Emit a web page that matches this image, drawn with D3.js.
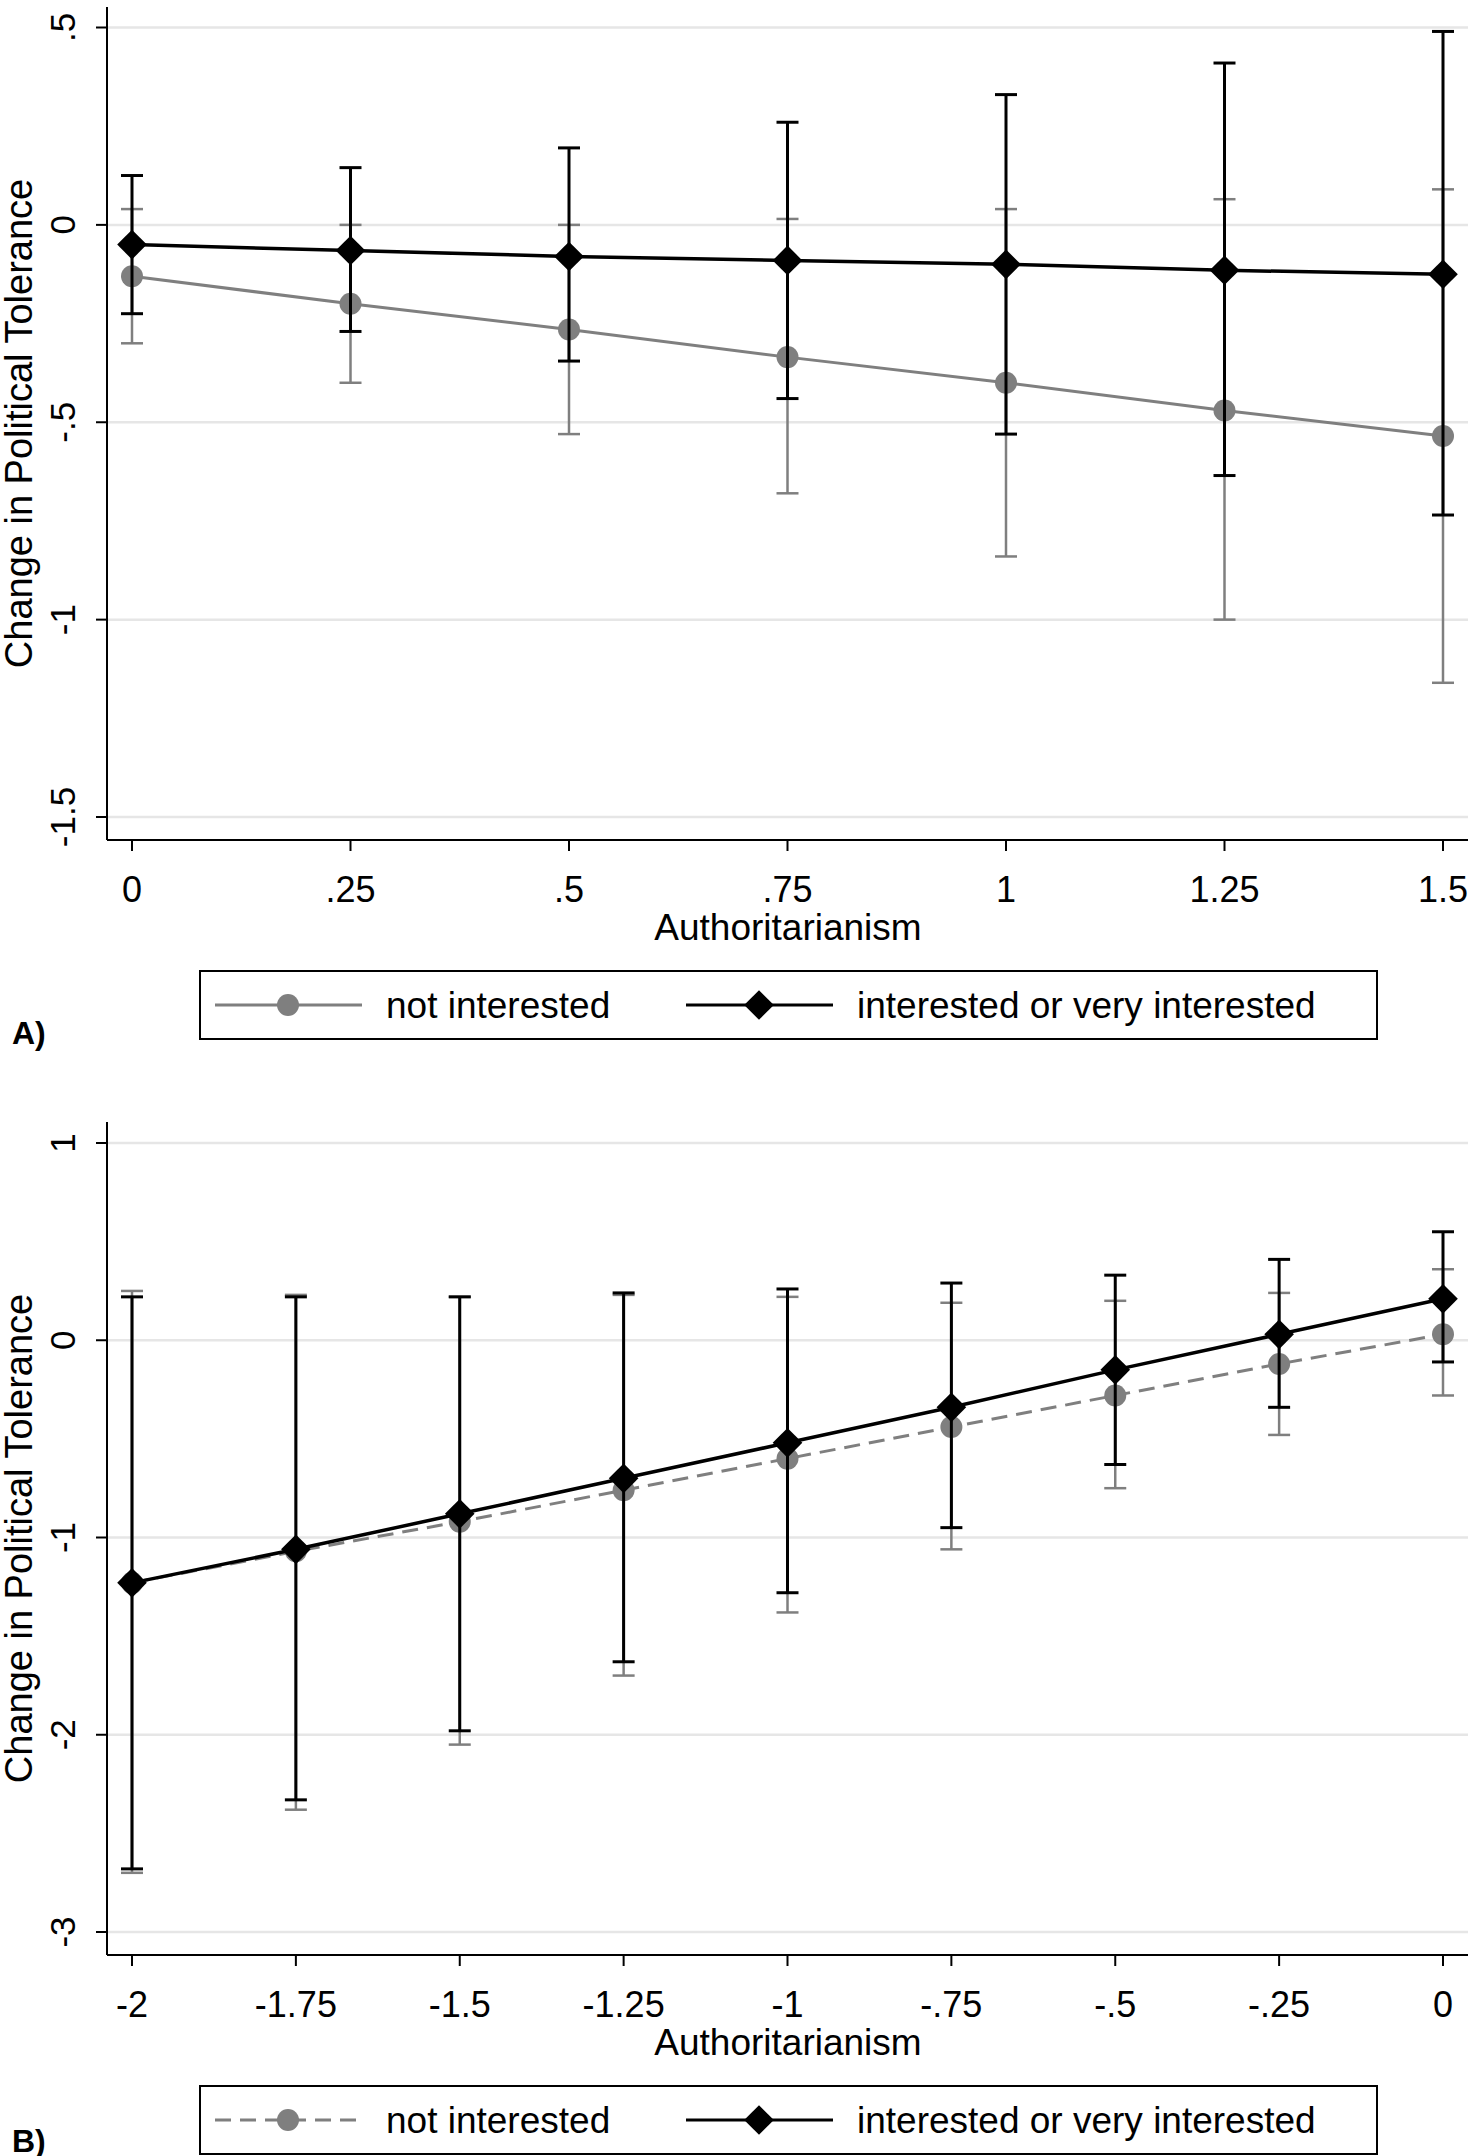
<!DOCTYPE html>
<html><head><meta charset="utf-8">
<script src="https://cdn.jsdelivr.net/npm/d3@7"></script>
<style>body{margin:0;background:#fff}text{font-family:"Liberation Sans",Arial,sans-serif}</style>
</head><body>
<svg id="c" width="1476" height="2156"></svg>
<script>
// Panel A data
const xA = [0, 0.25, 0.5, 0.75, 1, 1.25, 1.5];
const xATicks = ["0", ".25", ".5", ".75", "1", "1.25", "1.5"];
const yATicks = [0.5, 0, -0.5, -1, -1.5];
const yATickLabels = [".5", "0", "-.5", "-1", "-1.5"];
const aNotEst = [-0.13, -0.2, -0.265, -0.335, -0.4, -0.47, -0.535];
const aNotLo = [-0.3, -0.4, -0.53, -0.68, -0.84, -1.0, -1.16];
const aNotHi = [0.04, 0.0, 0.0, 0.015, 0.04, 0.065, 0.09];
const aIntEst = [-0.05, -0.065, -0.08, -0.09, -0.1, -0.115, -0.125];
const aIntLo = [-0.225, -0.27, -0.345, -0.44, -0.53, -0.635, -0.735];
const aIntHi = [0.125, 0.145, 0.195, 0.26, 0.33, 0.41, 0.49];
// Panel B data
const xB = [-2, -1.75, -1.5, -1.25, -1, -0.75, -0.5, -0.25, 0];
const xBTicks = ["-2", "-1.75", "-1.5", "-1.25", "-1", "-.75", "-.5", "-.25", "0"];
const yBTicks = [1, 0, -1, -2, -3];
const yBTickLabels = ["1", "0", "-1", "-2", "-3"];
const bNotEst = [-1.23, -1.07, -0.92, -0.76, -0.6, -0.44, -0.28, -0.12, 0.03];
const bNotLo = [-2.7, -2.38, -2.05, -1.7, -1.38, -1.06, -0.75, -0.48, -0.28];
const bNotHi = [0.25, 0.23, 0.22, 0.23, 0.22, 0.19, 0.2, 0.24, 0.36];
const bIntEst = [-1.23, -1.06, -0.88, -0.7, -0.52, -0.34, -0.15, 0.03, 0.21];
const bIntLo = [-2.68, -2.33, -1.98, -1.63, -1.28, -0.95, -0.63, -0.34, -0.11];
const bIntHi = [0.22, 0.22, 0.22, 0.24, 0.26, 0.29, 0.33, 0.41, 0.55];

const svg = d3.select("#c");
const GREY = "#7f7f7f", BLACK = "#000";
const diamond = d3.symbol().type(d3.symbolDiamond2).size(560);

function panel(o) {
  const g = svg.append("g");
  const x = d3.scaleLinear().domain(o.xDom).range([132, 1443]);
  const y = d3.scaleLinear().domain(o.yDom).range(o.yRange);
  // grid
  g.selectAll(".grid").data(o.yTicks).join("line")
    .attr("x1", 108).attr("x2", 1468).attr("y1", d => y(d)).attr("y2", d => y(d))
    .attr("stroke", "#e6e6e6").attr("stroke-width", 2.5);
  // axes
  g.append("line").attr("x1", 107).attr("x2", 107).attr("y1", o.top).attr("y2", o.axisY)
    .attr("stroke", "#000").attr("stroke-width", 2);
  g.append("line").attr("x1", 107).attr("x2", 1468).attr("y1", o.axisY).attr("y2", o.axisY)
    .attr("stroke", "#000").attr("stroke-width", 2);
  g.selectAll(".yt").data(o.yTicks).join("line")
    .attr("x1", 96).attr("x2", 107).attr("y1", d => y(d)).attr("y2", d => y(d))
    .attr("stroke", "#000").attr("stroke-width", 2);
  g.selectAll(".yl").data(o.yTicks).join("text")
    .attr("transform", d => `translate(75,${y(d)}) rotate(-90)`)
    .attr("text-anchor", "middle").attr("font-size", 35).text((d, i) => o.yLabels[i]);
  g.selectAll(".xt").data(o.xs).join("line")
    .attr("x1", d => x(d)).attr("x2", d => x(d)).attr("y1", o.axisY).attr("y2", o.axisY + 11)
    .attr("stroke", "#000").attr("stroke-width", 2);
  g.selectAll(".xl").data(o.xs).join("text")
    .attr("x", d => x(d)).attr("y", o.axisY + 62).attr("text-anchor", "middle")
    .attr("font-size", 36).text((d, i) => o.xLabels[i]);
  g.append("text").attr("x", 788).attr("y", o.axisY + 100).attr("text-anchor", "middle")
    .attr("font-size", 37).text("Authoritarianism");
  g.append("text").attr("transform", `translate(32,${(o.top + o.axisY) / 2}) rotate(-90)`)
    .attr("text-anchor", "middle").attr("font-size", 38).text("Change in Political Tolerance");

  function series(est, lo, hi, color, width, dash, marker) {
    const s = g.append("g");
    o.xs.forEach((xv, i) => {
      s.append("line").attr("x1", x(xv)).attr("x2", x(xv)).attr("y1", y(lo[i])).attr("y2", y(hi[i]))
        .attr("stroke", color).attr("stroke-width", width);
      [lo[i], hi[i]].forEach(v => s.append("line").attr("x1", x(xv) - 11).attr("x2", x(xv) + 11)
        .attr("y1", y(v)).attr("y2", y(v)).attr("stroke", color).attr("stroke-width", width));
    });
    s.append("path").datum(est)
      .attr("d", d3.line().x((d, i) => x(o.xs[i])).y(d => y(d)))
      .attr("fill", "none").attr("stroke", color).attr("stroke-width", width + 0.5)
      .attr("stroke-dasharray", dash);
    est.forEach((v, i) => {
      if (marker === "circle") s.append("circle").attr("cx", x(o.xs[i])).attr("cy", y(v)).attr("r", 11).attr("fill", color);
      else s.append("path").attr("d", diamond).attr("transform", `translate(${x(o.xs[i])},${y(v)})`).attr("fill", color);
    });
  }
  series(o.notEst, o.notLo, o.notHi, GREY, 2.5, o.dash, "circle");
  series(o.intEst, o.intLo, o.intHi, BLACK, 3, null, "diamond");

  // legend
  const L = o.legY;
  g.append("rect").attr("x", 200).attr("y", L).attr("width", 1177).attr("height", 68)
    .attr("fill", "#fff").attr("stroke", "#000").attr("stroke-width", 2);
  const cy = L + 34;
  g.append("line").attr("x1", 215).attr("x2", 362).attr("y1", cy).attr("y2", cy)
    .attr("stroke", GREY).attr("stroke-width", 3).attr("stroke-dasharray", o.dash);
  g.append("circle").attr("cx", 288).attr("cy", cy).attr("r", 11).attr("fill", GREY);
  g.append("text").attr("x", 386).attr("y", cy + 13).attr("font-size", 37).text("not interested");
  g.append("line").attr("x1", 686).attr("x2", 833).attr("y1", cy).attr("y2", cy)
    .attr("stroke", BLACK).attr("stroke-width", 3);
  g.append("path").attr("d", diamond).attr("transform", `translate(759,${cy})`).attr("fill", BLACK);
  g.append("text").attr("x", 857).attr("y", cy + 13).attr("font-size", 37).text("interested or very interested");
  g.append("text").attr("x", 12).attr("y", o.tagY).attr("font-size", 32).attr("font-weight", "bold")
    .attr("font-family", "Open Sans").text(o.tag);
}

panel({ xDom: [0, 1.5], xs: xA, xLabels: xATicks, yDom: [0.5, -1.5], yRange: [27.5, 817],
  yTicks: yATicks, yLabels: yATickLabels, top: 7, axisY: 840, legY: 971, tagY: 1044, tag: "A)",
  notEst: aNotEst, notLo: aNotLo, notHi: aNotHi, intEst: aIntEst, intLo: aIntLo, intHi: aIntHi, dash: null });
panel({ xDom: [-2, 0], xs: xB, xLabels: xBTicks, yDom: [1, -3], yRange: [1143, 1932],
  yTicks: yBTicks, yLabels: yBTickLabels, top: 1122, axisY: 1955, legY: 2086, tagY: 2152, tag: "B)",
  notEst: bNotEst, notLo: bNotLo, notHi: bNotHi, intEst: bIntEst, intLo: bIntLo, intHi: bIntHi, dash: "16,9" });
</script>
</body></html>
